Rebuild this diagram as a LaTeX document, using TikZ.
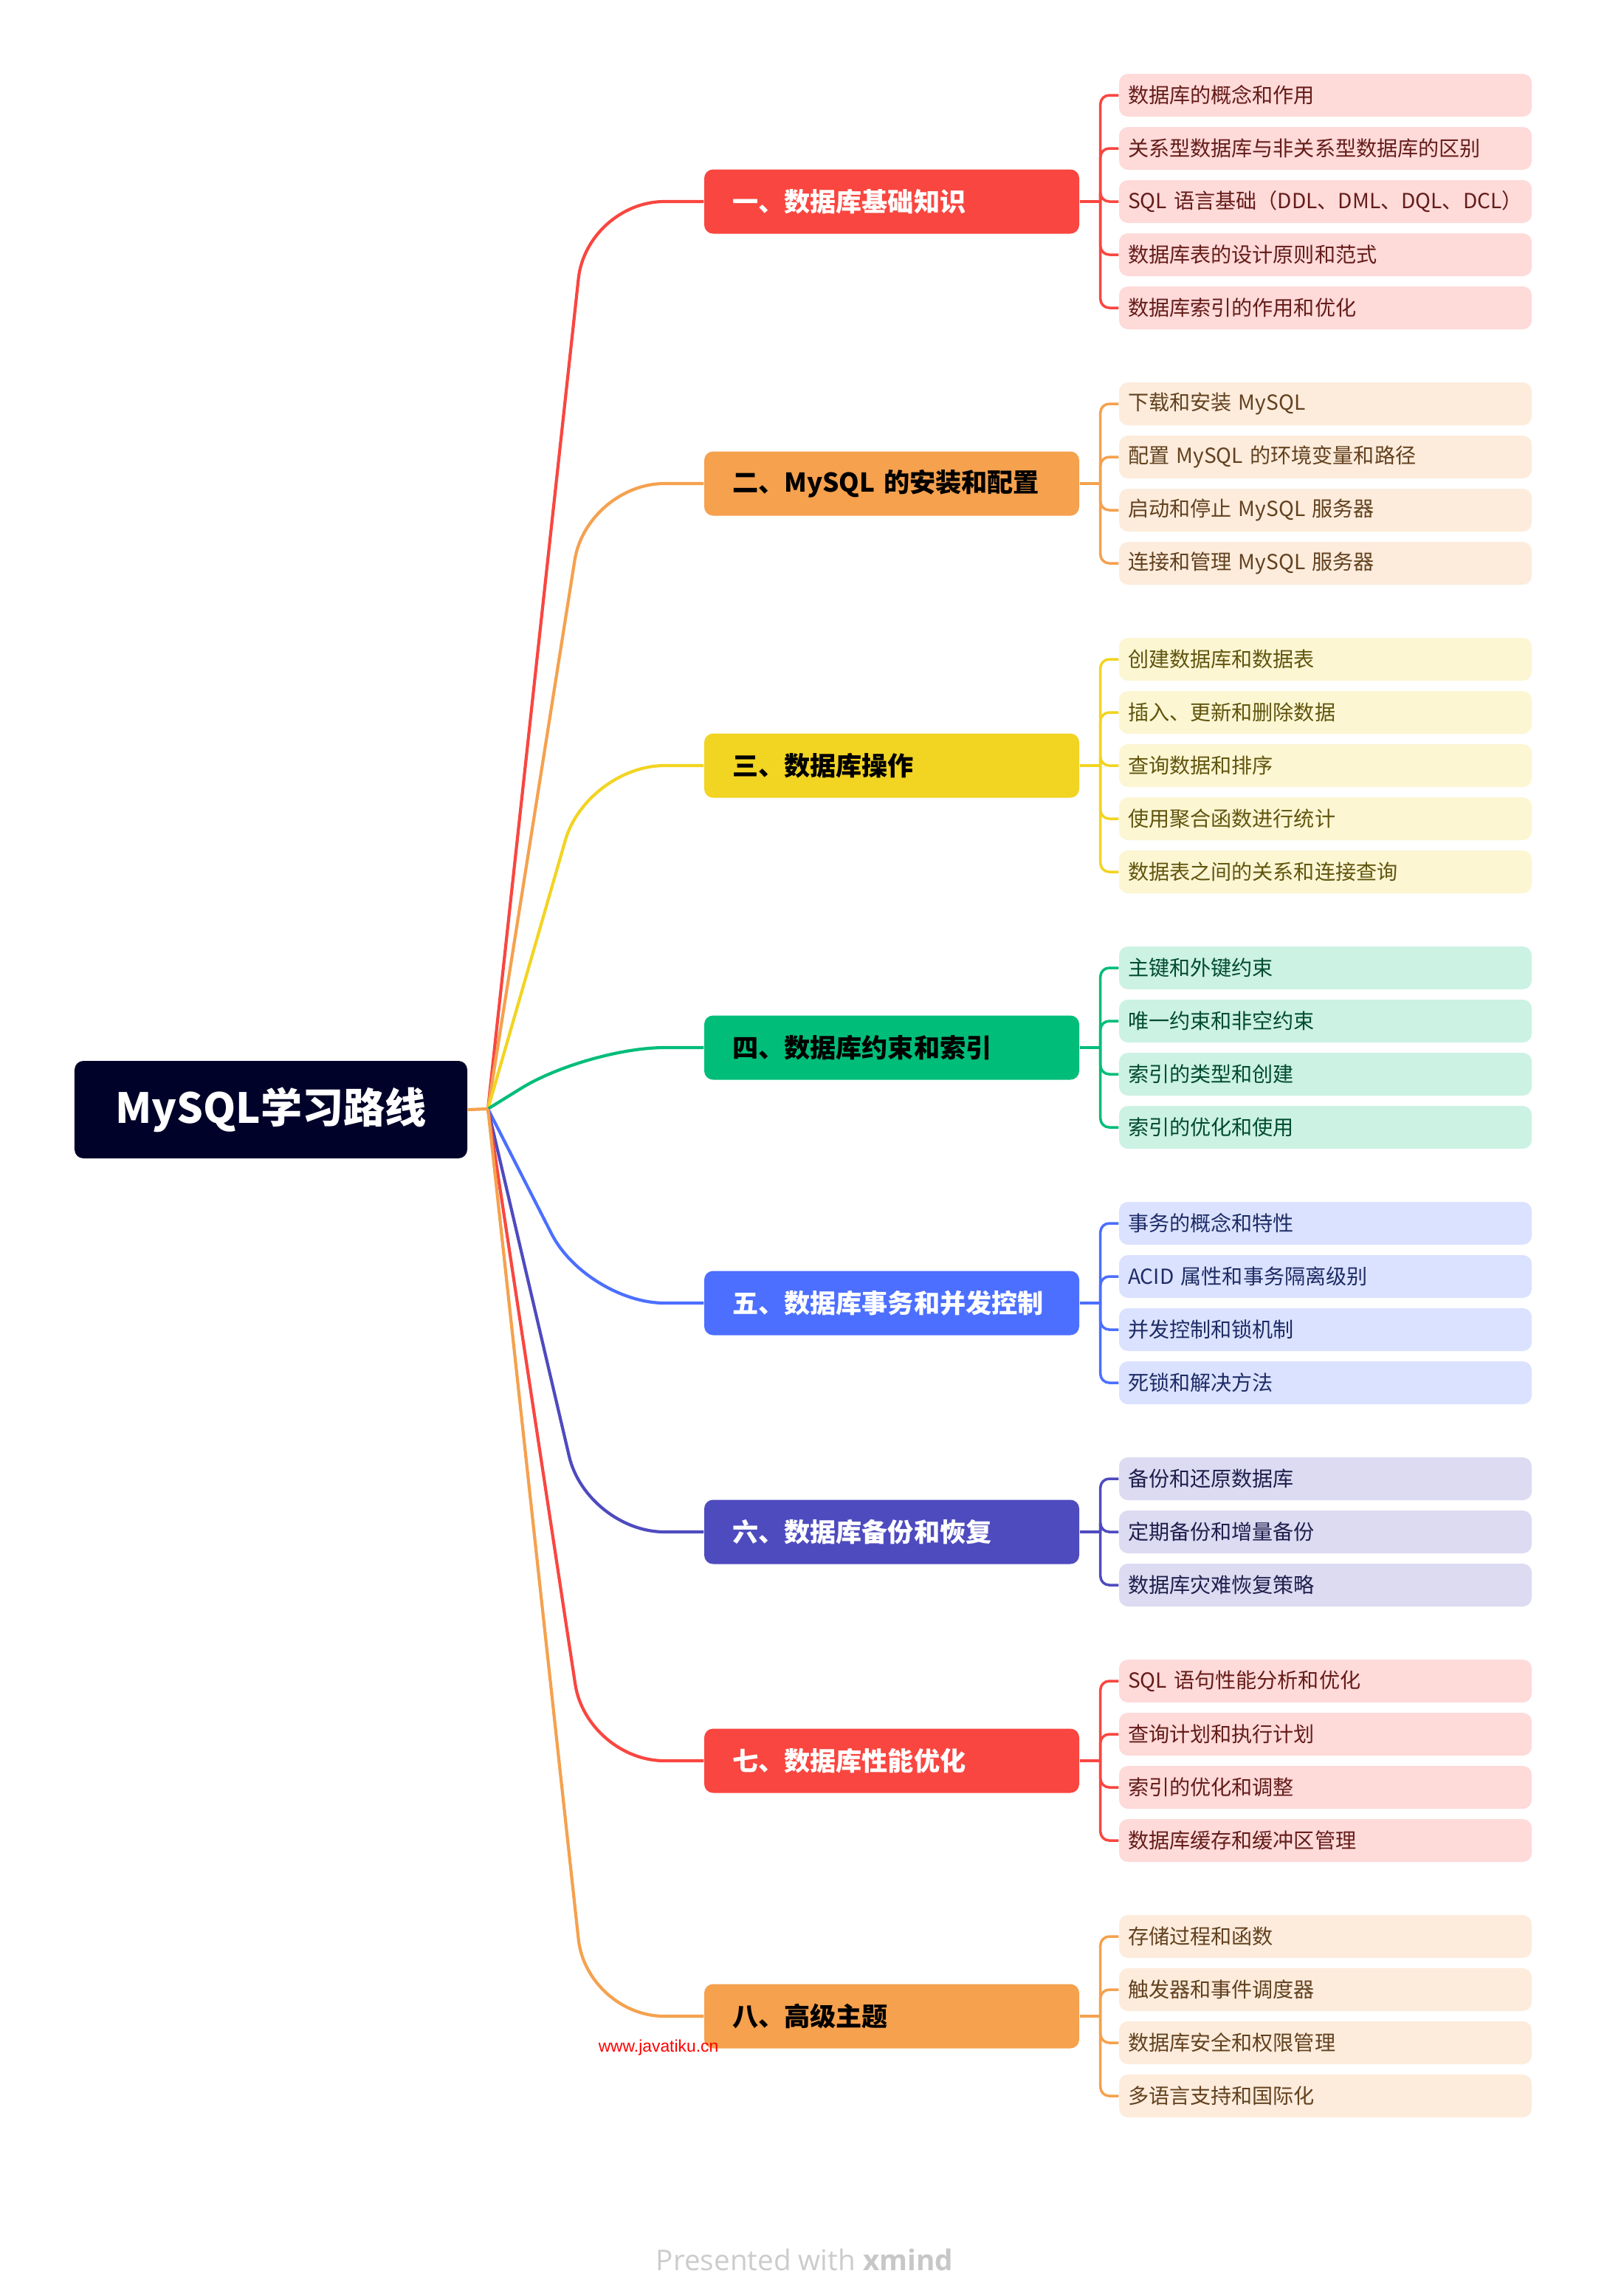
\documentclass[tikz,border=0pt]{standalone}
\usepackage{fontspec}
\usepackage{tikz}
\usetikzlibrary{calc}
\usepackage{xcolor}

\newfontfamily\cjk{Noto Sans CJK SC}
\newfontfamily\webfont{Liberation Sans}
\newfontfamily\credfont{Open Sans}

\definecolor{rootc}{HTML}{000229}
\definecolor{cred}{HTML}{F94640}
\definecolor{corange}{HTML}{F5A14E}
\definecolor{cyellow}{HTML}{F2D422}
\definecolor{cgreen}{HTML}{00BD7A}
\definecolor{cblue}{HTML}{4C6FFF}
\definecolor{cindigo}{HTML}{4E4BBF}

\tikzset{
  rootbox/.style={rectangle, rounded corners=1.2mm, fill=rootc, text=white,
    font=\cjk\bfseries\fontsize{16}{19}\selectfont,
    minimum width=53.2mm, minimum height=13.2mm, inner sep=0pt},
  topicbox/.style={rectangle, rounded corners=1.2mm, fill=#1,
    font=\cjk\bfseries\fontsize{10}{12}\selectfont,
    text width=43.2mm, inner xsep=3.8mm, inner ysep=0pt, align=left,
    minimum height=8.7mm},
  subbox/.style={rectangle, rounded corners=1.2mm, fill=#1!20, text=#1!40!black,
    font=\cjk\fontsize{8}{10}\selectfont,
    text width=53.5mm, inner xsep=1.2mm, inner ysep=0pt, align=left,
    minimum height=5.8mm},
  branch/.style={draw=#1, line width=0.42mm, rounded corners=10.5mm},
  twig/.style={draw=#1, line width=0.35mm, rounded corners=1.2mm},
}

\begin{document}
\begin{tikzpicture}[x=1mm, y=-1mm]
  \path[use as bounding box, fill=white] (0,0) rectangle (217.6,311.0);

  % root
  \node[rootbox] (root) at (36.7,150.3) {MySQL学习路线};
  \coordinate (hub) at (66.1,150.2);
  \coordinate (bend) at (79.5,0);

  % main topics
  \node[topicbox=cred, text=white] (t1) at (120.8,27.3) {一、数据库基础知识};
  \node[topicbox=corange, text=black] (t2) at (120.8,65.5) {二、MySQL 的安装和配置};
  \node[topicbox=cyellow, text=black] (t3) at (120.8,103.7) {三、数据库操作};
  \node[topicbox=cgreen, text=black] (t4) at (120.8,141.9) {四、数据库约束和索引};
  \node[topicbox=cblue, text=white] (t5) at (120.8,176.5) {五、数据库事务和并发控制};
  \node[topicbox=cindigo, text=white] (t6) at (120.8,207.5) {六、数据库备份和恢复};
  \node[topicbox=cred, text=white] (t7) at (120.8,238.5) {七、数据库性能优化};
  \node[topicbox=corange, text=black] (t8) at (120.8,273.1) {八、高级主题};

  % sub topics
  \node[subbox=cred] (s1-1) at (179.55,12.9) {数据库的概念和作用};
  \node[subbox=cred] (s1-2) at (179.55,20.1) {关系型数据库与非关系型数据库的区别};
  \node[subbox=cred] (s1-3) at (179.55,27.3) {SQL 语言基础（DDL、DML、DQL、DCL）};
  \node[subbox=cred] (s1-4) at (179.55,34.5) {数据库表的设计原则和范式};
  \node[subbox=cred] (s1-5) at (179.55,41.7) {数据库索引的作用和优化};

  \node[subbox=corange] (s2-1) at (179.55,54.7) {下载和安装 MySQL};
  \node[subbox=corange] (s2-2) at (179.55,61.9) {配置 MySQL 的环境变量和路径};
  \node[subbox=corange] (s2-3) at (179.55,69.1) {启动和停止 MySQL 服务器};
  \node[subbox=corange] (s2-4) at (179.55,76.3) {连接和管理 MySQL 服务器};

  \node[subbox=cyellow] (s3-1) at (179.55,89.3) {创建数据库和数据表};
  \node[subbox=cyellow] (s3-2) at (179.55,96.5) {插入、更新和删除数据};
  \node[subbox=cyellow] (s3-3) at (179.55,103.7) {查询数据和排序};
  \node[subbox=cyellow] (s3-4) at (179.55,110.9) {使用聚合函数进行统计};
  \node[subbox=cyellow] (s3-5) at (179.55,118.1) {数据表之间的关系和连接查询};

  \node[subbox=cgreen] (s4-1) at (179.55,131.1) {主键和外键约束};
  \node[subbox=cgreen] (s4-2) at (179.55,138.3) {唯一约束和非空约束};
  \node[subbox=cgreen] (s4-3) at (179.55,145.5) {索引的类型和创建};
  \node[subbox=cgreen] (s4-4) at (179.55,152.7) {索引的优化和使用};

  \node[subbox=cblue] (s5-1) at (179.55,165.7) {事务的概念和特性};
  \node[subbox=cblue] (s5-2) at (179.55,172.9) {ACID 属性和事务隔离级别};
  \node[subbox=cblue] (s5-3) at (179.55,180.1) {并发控制和锁机制};
  \node[subbox=cblue] (s5-4) at (179.55,187.3) {死锁和解决方法};

  \node[subbox=cindigo] (s6-1) at (179.55,200.3) {备份和还原数据库};
  \node[subbox=cindigo] (s6-2) at (179.55,207.5) {定期备份和增量备份};
  \node[subbox=cindigo] (s6-3) at (179.55,214.7) {数据库灾难恢复策略};

  \node[subbox=cred] (s7-1) at (179.55,227.7) {SQL 语句性能分析和优化};
  \node[subbox=cred] (s7-2) at (179.55,234.9) {查询计划和执行计划};
  \node[subbox=cred] (s7-3) at (179.55,242.1) {索引的优化和调整};
  \node[subbox=cred] (s7-4) at (179.55,249.3) {数据库缓存和缓冲区管理};

  \node[subbox=corange] (s8-1) at (179.55,262.3) {存储过程和函数};
  \node[subbox=corange] (s8-2) at (179.55,269.5) {触发器和事件调度器};
  \node[subbox=corange] (s8-3) at (179.55,276.7) {数据库安全和权限管理};
  \node[subbox=corange] (s8-4) at (179.55,283.9) {多语言支持和国际化};

  % branches from the root
  \draw[branch=cred] (hub) -- (t1.west -| bend) -- (t1.west);
  \draw[branch=corange] (hub) -- (t2.west -| bend) -- (t2.west);
  \draw[branch=cyellow] (hub) -- (t3.west -| bend) -- (t3.west);
  \draw[branch=cgreen] (hub) -- (t4.west -| bend) -- (t4.west);
  \draw[branch=cblue] (hub) -- (t5.west -| bend) -- (t5.west);
  \draw[branch=cindigo] (hub) -- (t6.west -| bend) -- (t6.west);
  \draw[branch=cred] (hub) -- (t7.west -| bend) -- (t7.west);
  \draw[branch=corange] (hub) -- (t8.west -| bend) -- (t8.west);
  \draw[branch=corange] (root.east) -- (hub);

  % twigs to the sub topics
  \draw[twig=cred] (t1.east) -- ++(2.8,0) coordinate (j1);
  \foreach \k in {1,...,5} \draw[twig=cred] (j1) |- (s1-\k.west);
  \draw[twig=corange] (t2.east) -- ++(2.8,0) coordinate (j2);
  \foreach \k in {1,...,4} \draw[twig=corange] (j2) |- (s2-\k.west);
  \draw[twig=cyellow] (t3.east) -- ++(2.8,0) coordinate (j3);
  \foreach \k in {1,...,5} \draw[twig=cyellow] (j3) |- (s3-\k.west);
  \draw[twig=cgreen] (t4.east) -- ++(2.8,0) coordinate (j4);
  \foreach \k in {1,...,4} \draw[twig=cgreen] (j4) |- (s4-\k.west);
  \draw[twig=cblue] (t5.east) -- ++(2.8,0) coordinate (j5);
  \foreach \k in {1,...,4} \draw[twig=cblue] (j5) |- (s5-\k.west);
  \draw[twig=cindigo] (t6.east) -- ++(2.8,0) coordinate (j6);
  \foreach \k in {1,...,3} \draw[twig=cindigo] (j6) |- (s6-\k.west);
  \draw[twig=cred] (t7.east) -- ++(2.8,0) coordinate (j7);
  \foreach \k in {1,...,4} \draw[twig=cred] (j7) |- (s7-\k.west);
  \draw[twig=corange] (t8.east) -- ++(2.8,0) coordinate (j8);
  \foreach \k in {1,...,4} \draw[twig=corange] (j8) |- (s8-\k.west);

  % watermark and credit
  \node[font=\webfont\fontsize{6.5}{8}\selectfont, text=red, inner sep=0pt] (web) at (89.2,277.4) {www.javatiku.cn};
  \node[font=\credfont\fontsize{11}{13}\selectfont, inner sep=0pt] (credit) at (109.0,306.1)
    {\color{black!20}Presented with {\bfseries\color{black!22}xmind}};
\end{tikzpicture}
\end{document}
